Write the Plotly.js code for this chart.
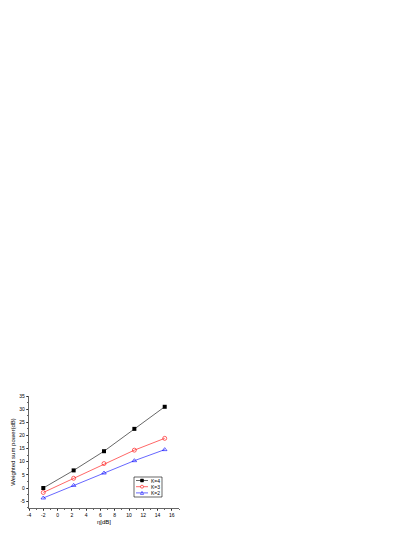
<!DOCTYPE html>
<html><head><meta charset="utf-8">
<script src="https://cdn.plot.ly/plotly-3.0.1.min.js"></script>
<style>html,body{margin:0;padding:0;background:#fff}#c{width:415px;height:537px}</style>
</head><body><div id="c"></div>
<script>
const eta = [-2, 2.25, 6.5, 10.75, 15];
const k4 = [0.0, 6.7, 14.0, 22.5, 30.9];
const k3 = [-1.7, 3.7, 9.3, 14.4, 18.9];
const k2 = [-3.8, 1.0, 5.7, 10.4, 14.6];
const names = ["K=4", "K=3", "K=2"];
const colors = ["#000000", "#ff0000", "#0000ff"];
const xTicks = [-4, -2, 0, 2, 4, 6, 8, 10, 12, 14, 16];
const yTicks = [-5, 0, 5, 10, 15, 20, 25, 30, 35];

const W = 415, H = 537;
const M = {l: 29, r: 236, t: 396, b: 29};
const PW = W - M.l - M.r, PH = H - M.t - M.b;
const px = x => (x - M.l) / PW;
const py = y => (H - M.b - y) / PH;

const fnt = {family: "Liberation Sans, Arial, sans-serif", size: 5, color: "#000"};
const traces = [
  {x: eta, y: k4, name: names[0], mode: "lines+markers",
   line: {color: colors[0], width: 0.6}, marker: {symbol: "square", size: 4, color: colors[0]}},
  {x: eta, y: k3, name: names[1], mode: "lines+markers",
   line: {color: colors[1], width: 0.6}, marker: {symbol: "circle-open", size: 4, color: colors[1], line: {width: 0.6}}},
  {x: eta, y: k2, name: names[2], mode: "lines+markers",
   line: {color: colors[2], width: 0.6}, marker: {symbol: "triangle-up-open", size: 4, color: colors[2], line: {width: 0.6}}}
];

// custom compact legend (Plotly's own legend has a 16px minimum row height)
const shapes = [];
const annotations = [];
const box = {x0: 134, x1: 162, y0: 477, y1: 497};
shapes.push({type: "rect", xref: "paper", yref: "paper", x0: px(box.x0), x1: px(box.x1),
             y0: py(box.y1), y1: py(box.y0), line: {color: "#000", width: 0.6}, fillcolor: "#fff", layer: "above"});
names.forEach((n, i) => {
  const yy = 480.5 + i * 6.2;
  shapes.push({type: "line", xref: "paper", yref: "paper", x0: px(136), x1: px(148), y0: py(yy), y1: py(yy),
               line: {color: colors[i], width: 0.6}, layer: "above"});
  const cx = 142, r = 1.5;
  if (i === 0) {
    shapes.push({type: "rect", xref: "paper", yref: "paper", x0: px(cx - r), x1: px(cx + r), y0: py(yy + r), y1: py(yy - r),
                 line: {color: colors[i], width: 0.5}, fillcolor: colors[i], layer: "above"});
  } else if (i === 1) {
    shapes.push({type: "circle", xref: "paper", yref: "paper", x0: px(cx - r), x1: px(cx + r), y0: py(yy + r), y1: py(yy - r),
                 line: {color: colors[i], width: 0.6}, fillcolor: "#fff", layer: "above"});
  } else {
    shapes.push({type: "path", xref: "paper", yref: "paper",
                 path: `M ${px(cx - r)} ${py(yy + r)} L ${px(cx + r)} ${py(yy + r)} L ${px(cx)} ${py(yy - r)} Z`,
                 line: {color: colors[i], width: 0.6}, fillcolor: "#fff", layer: "above"});
  }
  annotations.push({xref: "paper", yref: "paper", x: px(149), y: py(yy), xanchor: "left", yanchor: "middle",
                    text: n, showarrow: false, font: fnt});
});

const layout = {
  width: W, height: H,
  margin: M,
  paper_bgcolor: "#fff", plot_bgcolor: "#fff",
  font: fnt,
  showlegend: false,
  shapes: shapes, annotations: annotations,
  xaxis: {range: [-4, 17], tickvals: xTicks, ticktext: xTicks.map(String), automargin: false,
          showgrid: false, zeroline: false, showline: true, linecolor: "#000", linewidth: 0.6,
          ticks: "outside", ticklen: 2.5, tickwidth: 0.6, tickcolor: "#000",
          minor: {ticks: "outside", ticklen: 1.3, tickwidth: 0.6, dtick: 1, tickcolor: "#000"},
          tickfont: fnt,
          title: {text: "η[dB]", font: {family: fnt.family, size: 6, color: "#000"}, standoff: 2}},
  yaxis: {range: [-7.6, 35], tickvals: yTicks, ticktext: yTicks.map(String), automargin: false,
          showgrid: false, zeroline: false, showline: true, linecolor: "#000", linewidth: 0.6,
          ticks: "outside", ticklen: 2.5, tickwidth: 0.6, tickcolor: "#000",
          minor: {ticks: "outside", ticklen: 1.3, tickwidth: 0.6, dtick: 2.5, tickcolor: "#000"},
          tickfont: fnt,
          title: {text: "Weighted sum power(dB)", font: {family: fnt.family, size: 6, color: "#000"}, standoff: 3}}
};
Plotly.newPlot("c", traces, layout, {displayModeBar: false, staticPlot: true});
</script>
</body></html>
